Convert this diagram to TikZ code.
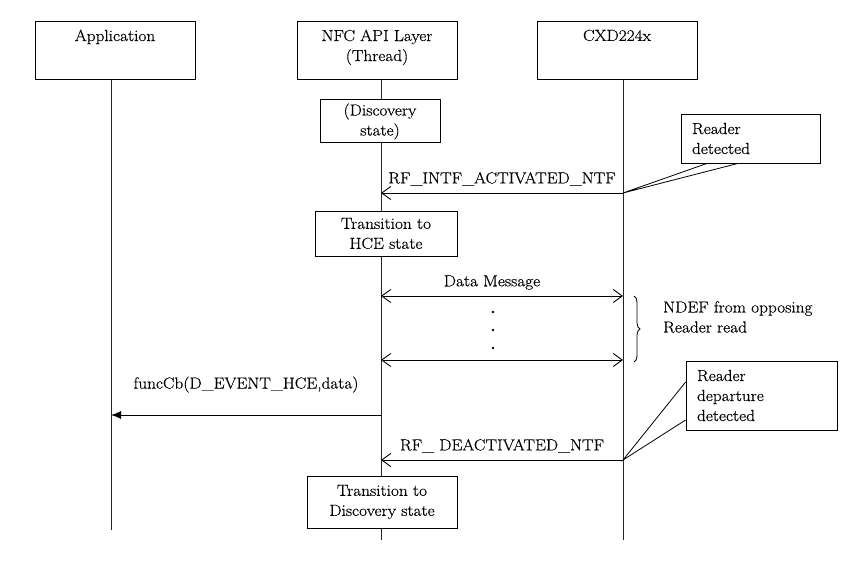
\documentclass[tikz,border=0pt]{standalone}
\usepackage{fontspec}
\setmainfont{Latin Modern Roman}[FakeStretch=1.08,FakeBold=0.5]
\usetikzlibrary{arrows.meta,decorations.pathreplacing}
\begin{document}
\begin{tikzpicture}[x=1pt,y=-1pt,
  every node/.style={font=\fontsize{16}{20}\selectfont},
  hbox/.style={draw,line width=1pt,minimum width=160pt,minimum height=58pt,inner sep=0pt},
  sbox/.style={draw,line width=1pt,fill=white,align=center,inner sep=0pt},
  cbox/.style={draw,line width=0.8pt,fill=white,align=left,inner xsep=11pt,inner ysep=0pt},
  hlbl/.style={anchor=north,align=center,inner sep=8pt},
  life/.style={line width=0.9pt,black!85},
  msg/.style={line width=0.9pt,-{Straight Barb[length=9pt,width=13pt]}},
  dmsg/.style={line width=0.9pt,{Straight Barb[length=9pt,width=13pt]}-{Straight Barb[length=9pt,width=13pt]}},
  call/.style={line width=0.9pt,-{Latex[length=10pt,width=8pt]}},
  ptr/.style={line width=0.8pt}]
\useasboundingbox (0,0) rectangle (858,572);
% headers
\node[hbox,label={[hlbl]north:Application}] (app) at (115,51) {};
\node[hbox,label={[hlbl]north:NFC API Layer\\(Thread)}] (nfc) at (377,51) {};
\node[hbox,label={[hlbl]north:CXD224x}] (cxd) at (617,51) {};
% lifeline ends
\coordinate (append) at (111,530);
\coordinate (nfcend) at (381,540);
\coordinate (cxdend) at (623,540);
\draw[life] (app.south -| append) -- (append);
\draw[life] (nfc.south -| nfcend) -- (nfcend);
\draw[life] (cxd.south -| cxdend) -- (cxdend);
% state boxes
\node[sbox,minimum width=120pt,minimum height=43pt] (disc) at (380,121.5) {(Discovery\\state)};
\node[sbox,minimum width=142pt,minimum height=45pt] (hce) at (386,233.5) {Transition to\\HCE state};
\node[sbox,minimum width=150pt,minimum height=52pt] (tdisc) at (382,502) {Transition to\\Discovery state};
% message points
\coordinate (c1) at (623,193);
\coordinate (n1) at (381,193);
\coordinate (n2) at (381,296);
\coordinate (c2) at (623,296);
\coordinate (n3) at (381,360);
\coordinate (c3) at (623,360);
\coordinate (n4) at (381,415);
\coordinate (a4) at (111,415);
\coordinate (c5) at (623,460);
\coordinate (n5) at (381,460);
% messages
\draw[msg] (c1) -- node[midway,above,inner sep=7pt] {RF\_INTF\_ACTIVATED\_NTF} (n1);
\draw[dmsg] (n2) -- node[midway,above,inner sep=6pt,xshift=-10pt] {Data Message} (c2);
\draw[dmsg] (n3) -- (c3);
\fill (493,312) circle (1.4pt) (493,330) circle (1.4pt) (493,348) circle (1.4pt);
\draw[call] (n4) -- node[midway,above,inner sep=0pt,yshift=22pt] {funcCb(D\_EVENT\_HCE,data)} (a4);
\draw[msg] (c5) -- node[midway,above,inner sep=7pt] {RF\_ DEACTIVATED\_NTF} (n5);
% brace
\coordinate (b1) at (634,296);
\coordinate (b2) at (634,362);
\draw[line width=0.8pt,decorate,decoration={brace,amplitude=6pt}] (b1) -- (b2);
\node[anchor=west,align=left,inner sep=0pt] (ndef) at (663,317) {NDEF from opposing\\Reader read};
% callouts
\node[cbox,text width=117pt,minimum height=49pt] (rd) at (750.5,138.5) {Reader\\detected};
\draw[ptr] (rd.south -| 707,0) -- (c1) -- (rd.south -| 738,0);
\node[cbox,text width=129pt,minimum height=69pt] (rdd) at (761.5,395.5) {Reader\\departure\\detected};
\draw[ptr] (rdd.west |- 0,382) -- (c5) -- (rdd.west |- 0,420);
\end{tikzpicture}
\end{document}
